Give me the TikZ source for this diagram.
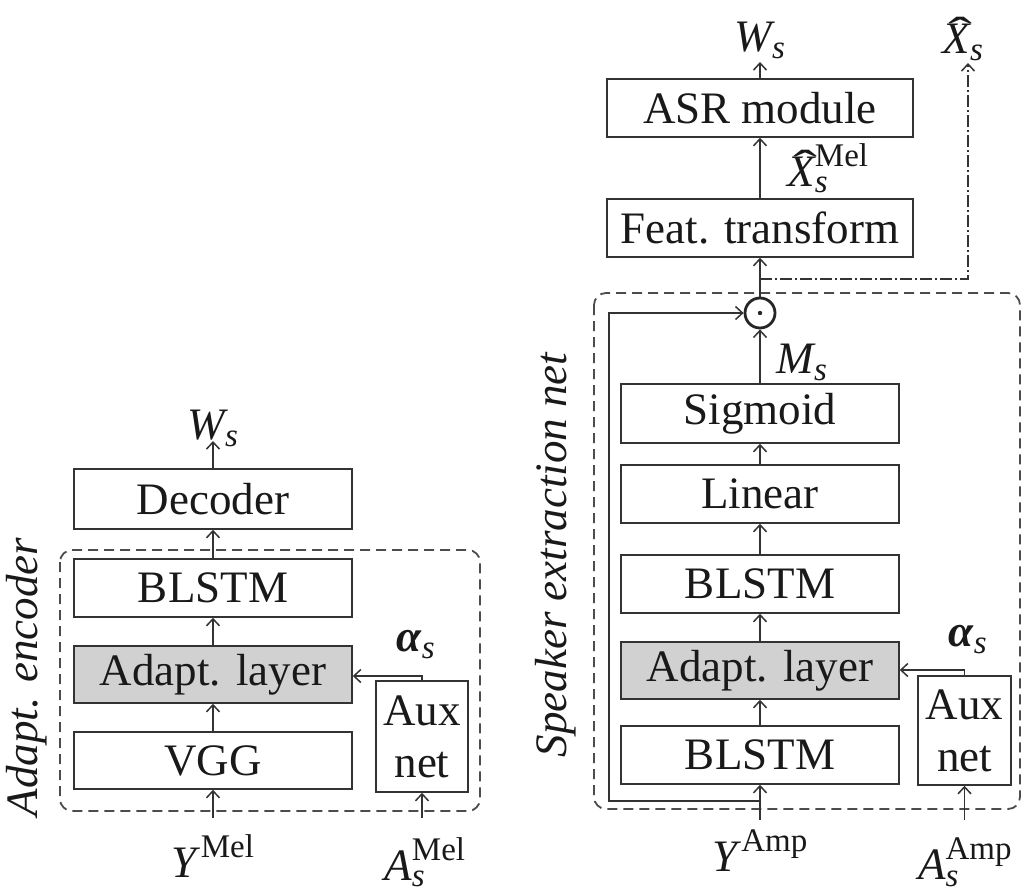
\documentclass[tikz,border=0pt]{standalone}
\usepackage{fontspec}
\setmainfont{Liberation Serif}
\usepackage{amsmath}
\usepackage{graphicx}
\usetikzlibrary{arrows.meta}
\DeclareMathSizes{45}{45}{33}{25}
\newcommand{\mi}[1]{\textit{#1}}
\newcommand{\hatX}{\text{\makebox[0pt][l]{\smash{\hspace{0.14em}\raisebox{0.1em}{\scalebox{1.6}[1]{ˆ}}}}\itshape X}}
\begin{document}
\begin{tikzpicture}[x=1pt,y=-1pt,
  every node/.style={font=\fontsize{45}{52}\selectfont, text=black!90, inner sep=0pt},
  blk/.style={draw=black!80, line width=1.5pt, minimum height=58pt},
  wide/.style={blk, minimum width=278pt},
  gray/.style={fill=black!18},
  aux/.style={blk, align=center},
  grp/.style={draw=black!70, line width=1.8pt, dash pattern=on 10pt off 6pt, rounded corners=12pt},
  arr/.style={draw=black!80, line width=1.5pt, -{Straight Barb[length=7pt,width=13pt,line width=1.5pt]}},
  ln/.style={draw=black!80, line width=1.5pt}]
\useasboundingbox (0,0) rectangle (1022,894);

% ---------- left: adaptive encoder ----------
\draw[grp] (60,550) rectangle (480,811);
\node[rotate=90, font=\fontsize{45}{52}\selectfont\itshape] (encl) at (27,677) {Adapt. encoder};

\node[wide, minimum height=60pt] (dec) at (213,499) {Decoder};
\node[wide] (blstmL) at (213,588) {BLSTM};
\node[wide, gray, minimum height=57pt] (adL) at (213,674.5) {Adapt. layer};
\node[wide, minimum height=57pt] (vgg) at (213,760.5) {VGG};
\node[aux, minimum width=92pt, minimum height=111pt] (auxL) at (422,736.5) {Aux\\net};

\node (wsL) at (213,428) {$\mi{W}_{\mi{s}}$};
\node (yL) at (213,856) {$\mi{Y}^{\,\textup{Mel}}$};
\node (aLlab) at (425,862) {$\mi{A}_{\mi{s}}^{\textup{Mel}}$};
\node (alL) at (416,645) {$\text{\bfseries\itshape α}_{\mi{s}}$};

\coordinate (yLs) at (213,818);
\coordinate (aLs) at (422,818);
\coordinate (aLc) at (422,676);
\coordinate (wsLt) at (213,441);

\draw[arr] (yLs) -- (vgg.south);
\draw[arr] (vgg.north) -- (adL.south);
\draw[arr] (adL.north) -- (blstmL.south);
\draw[arr] (blstmL.north) -- (dec.south);
\draw[arr] (dec.north) -- (wsLt);
\draw[arr] (aLs) -- (auxL.south);
\draw[arr] (auxL.north) -- (aLc) -- (aLc -| adL.east);

% ---------- right: speaker extraction net ----------
\draw[grp] (594,293) rectangle (1020,809);
\node[rotate=90, font=\fontsize{45}{52}\selectfont\itshape] (encr) at (556,555) {Speaker extraction net};

\node[blk, minimum width=306pt] (asr) at (760,108) {ASR module};
\node[blk, minimum width=306pt] (feat) at (760,228) {Feat. transform};
\node[wide, minimum height=59pt] (sig) at (760,413.5) {Sigmoid};
\node[wide] (lin) at (760,494) {Linear};
\node[wide] (blstmR2) at (760,584) {BLSTM};
\node[wide, gray, minimum height=57pt] (adR) at (760,670.5) {Adapt. layer};
\node[wide] (blstmR1) at (760,755) {BLSTM};
\node[aux, minimum width=93pt, minimum height=109pt] (auxR) at (964.5,730.5) {Aux\\net};

\node[circle, draw=black!85, line width=2.8pt, minimum size=30pt] (odot) at (760,313) {};
\fill[black!85] (odot.center) circle (2.2pt);

\node (wsR) at (760,40) {$\mi{W}_{\mi{s}}$};
\node (xhat) at (963,42) {$\hatX_{\mi{s}}$};
\node (xmel) at (828,168) {$\hatX_{\mi{s}}^{\textup{Mel}}$};
\node (ms) at (802,362) {$\mi{M}_{\mi{s}}$};
\node (yR) at (760,851) {$\mi{Y}^{\,\textup{Amp}}$};
\node (aRlab) at (965,862) {$\mi{A}_{\mi{s}}^{\textup{Amp}}$};
\node (alR) at (968,640) {$\text{\bfseries\itshape α}_{\mi{s}}$};

\coordinate (yRs) at (760,820);
\coordinate (aRs) at (964.5,820);
\coordinate (aRc) at (964.5,670);
\coordinate (wsRt) at (760,62);
\coordinate (skipA) at (760,801);
\coordinate (skipB) at (609,801);
\coordinate (dd) at (760,279);
\coordinate (ddt) at (968,63);

\draw[arr] (yRs) -- (blstmR1.south);
\draw[arr] (blstmR1.north) -- (adR.south);
\draw[arr] (adR.north) -- (blstmR2.south);
\draw[arr] (blstmR2.north) -- (lin.south);
\draw[arr] (lin.north) -- (sig.south);
\draw[arr] (sig.north) -- (odot.south);
\draw[arr] (odot.north) -- (feat.south);
\draw[arr] (feat.north) -- (asr.south);
\draw[arr] (asr.north) -- (wsRt);
\draw[arr] (aRs) -- (auxR.south);
\draw[arr] (auxR.north) -- (aRc) -- (aRc -| adR.east);
\draw[arr] (skipA) -- (skipB) |- (odot.west);
\draw[arr, dash pattern=on 12pt off 3pt on 2pt off 3pt] (dd) -| (ddt);
\end{tikzpicture}
\end{document}
